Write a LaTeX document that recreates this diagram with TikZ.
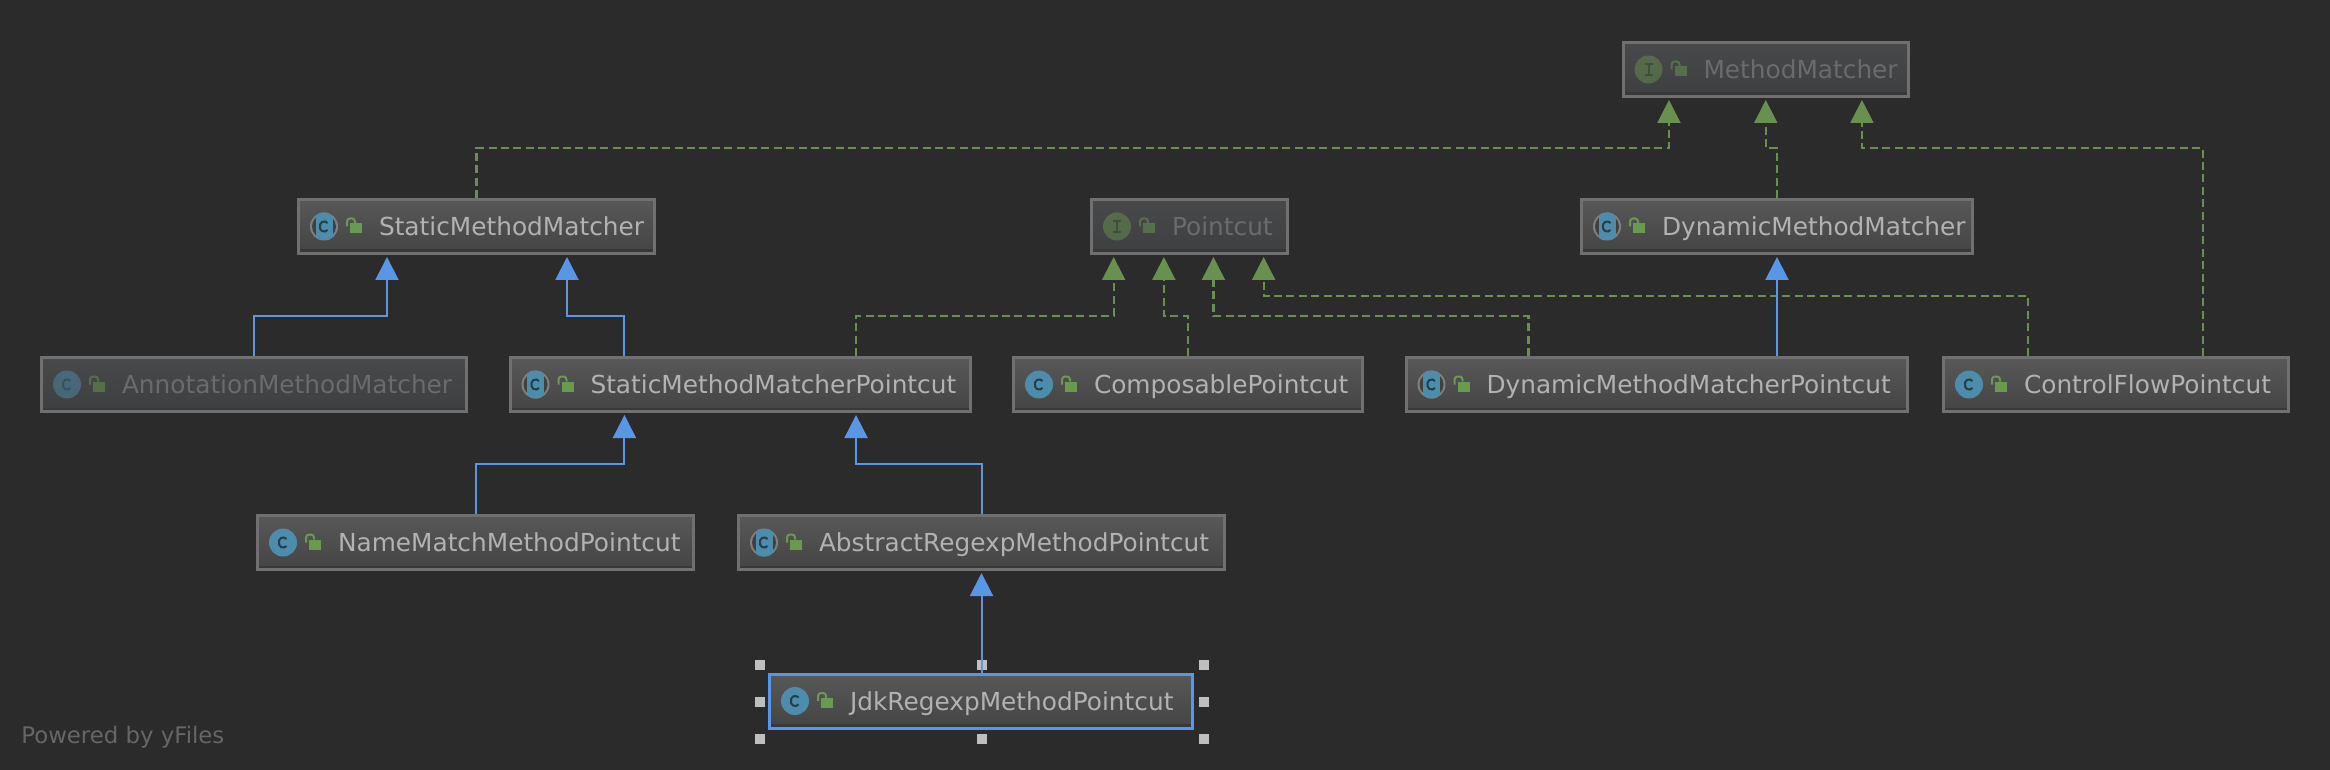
\documentclass[tikz,border=0pt]{standalone}
\usepackage{fontspec}
\setmainfont{DejaVu Sans}
\usepackage{xcolor}
\usetikzlibrary{arrows.meta}

\definecolor{canvas}{HTML}{2B2B2B}
\definecolor{edgeblue}{HTML}{5A96E6}
\definecolor{edgegreen}{HTML}{68904F}
\definecolor{boxedge}{HTML}{707070}
\definecolor{classblue}{HTML}{4D8CAA}
\definecolor{ifacegreen}{HTML}{68904F}
\definecolor{lockgreen}{HTML}{6A9A50}
\definecolor{boxtop}{HTML}{585858}
\definecolor{boxbottom}{HTML}{444444}
\definecolor{dimtop}{HTML}{48494B}
\definecolor{dimbottom}{HTML}{3D3F41}

\tikzset{
    classbox/.style={draw=boxedge, line width=1.5pt, top color=boxtop, bottom color=boxbottom,
        minimum height=27pt, inner xsep=0pt, inner ysep=0pt, align=left,
        text=black!30, font=\fontsize{12.4}{14}\selectfont,
        path picture={\fill [black!78] (path picture bounding box.south west) rectangle ([yshift=2pt]path picture bounding box.south east);},
        execute at begin node={\hspace*{40.25pt}\rule[-3pt]{0pt}{15pt}}},
    dimbox/.style={classbox, top color=dimtop, bottom color=dimbottom, text=black!58},
    selected/.style={draw=edgeblue},
    extends/.style={draw=edgeblue, line width=1pt, shorten >=1pt, -{Triangle[length=11.5pt, width=11.5pt]}},
    realizes/.style={draw=edgegreen, line width=1.1pt, shorten >=1pt, dash pattern=on 4pt off 2.2pt,
        -{Triangle[length=11.5pt, width=11.5pt]}},
    dimmed/.style={opacity=0.5},
    lockicon/.pic={
        \fill [lockgreen] (53,-3) rectangle (65,7);
        \draw [lockgreen, line width=1pt, rounded corners=1.5pt] (50,0) |- (58,-8) -- (58,-3);
    },
    concreteicon/.pic={
        \fill [classblue] (27,0) circle [radius=7pt];
        \draw [black!55!classblue, line width=1pt] (30.5,-3.5) -- (28,-5) -- (25,-4.5) -- (23,-2) -- (23,2) -- (25,4.5) -- (28,5) -- (30.5,3.5);
        \pic {lockicon};
    },
    abstracticon/.pic={
        \fill [black!50] (27,0) circle [radius=7pt];
        \fill [black!75] (27,0) circle [radius=6pt];
        \begin{scope}
            \clip (27,0) circle [radius=7pt];
            \fill [classblue] (18.5,-14) rectangle (35.5,14);
        \end{scope}
        \draw [black!55!classblue, line width=1pt] (30.5,-3.5) -- (28,-5) -- (25,-4.5) -- (23,-2) -- (23,2) -- (25,4.5) -- (28,5) -- (30.5,3.5);
        \pic {lockicon};
    },
    ifaceicon/.pic={
        \fill [ifacegreen] (27,0) circle [radius=7pt];
        \draw [black!60!ifacegreen, line width=1pt] (23,-5.5) -- (31,-5.5) (27,-5.5) -- (27,5.5) (23,5.5) -- (31,5.5);
        \pic {lockicon};
    },
}

\begin{document}
\begin{tikzpicture}[x=0.5pt, y=-0.5pt]
    % Canvas
    \fill [canvas] (0, 0) rectangle (2330, 770);
    \useasboundingbox (0, 0) rectangle (2330, 770);
    % Interfaces
    \node [dimbox, text width=142.75pt] (methodmatcher) at (1765.75, 69.5) {MethodMatcher};
    \node [dimbox, text width=97.75pt] (pointcut) at (1189.25, 226.5) {Pointcut};
    % First row
    \node [classbox, text width=178pt] (staticmatcher) at (476.5, 226.5) {StaticMethodMatcher};
    \node [classbox, text width=195.5pt] (dynamicmatcher) at (1777, 226.5) {DynamicMethodMatcher};
    % Second row
    \node [dimbox, text width=212.5pt] (annotationmatcher) at (254, 384.5) {AnnotationMethodMatcher};
    \node [classbox, text width=230.25pt] (staticpointcut) at (740.25, 384.5) {StaticMethodMatcherPointcut};
    \node [classbox, text width=174.5pt] (composable) at (1188, 384.5) {ComposablePointcut};
    \node [classbox, text width=250.75pt] (dynamicpointcut) at (1656.75, 384.5) {DynamicMethodMatcherPointcut};
    \node [classbox, text width=172.5pt] (controlflow) at (2116, 384.5) {ControlFlowPointcut};
    % Third row
    \node [classbox, text width=218pt] (namematch) at (475.5, 542.5) {NameMatchMethodPointcut};
    \node [classbox, text width=243pt] (abstractregexp) at (981.5, 542.5) {AbstractRegexpMethodPointcut};
    % Selected one and its handles
    \foreach \hx/\hy in {760/665, 982/665, 1204/665, 760/702, 1204/702, 760/739, 982/739, 1204/739}
        \fill [black!25] (\hx-5, \hy-5) rectangle (\hx+5, \hy+5);
    \node [classbox, selected, text width=211.5pt] (jdkregexp) at (981, 701) {JdkRegexpMethodPointcut};
    % Icons
    \pic [dimmed] at (methodmatcher.west) {ifaceicon};
    \pic [dimmed] at (pointcut.west) {ifaceicon};
    \pic at (staticmatcher.west) {abstracticon};
    \pic at (dynamicmatcher.west) {abstracticon};
    \pic [dimmed] at (annotationmatcher.west) {concreteicon};
    \pic at (staticpointcut.west) {abstracticon};
    \pic at (composable.west) {concreteicon};
    \pic at (dynamicpointcut.west) {abstracticon};
    \pic at (controlflow.west) {concreteicon};
    \pic at (namematch.west) {concreteicon};
    \pic at (abstractregexp.west) {abstracticon};
    \pic at (jdkregexp.west) {concreteicon};
    % Green lines up to MethodMatcher
    \draw [realizes] (staticmatcher.north) -- (staticmatcher.north |- 0, 148) -| ([xshift=-48.4pt]methodmatcher.south);
    \draw [realizes] (dynamicmatcher.north) -- (dynamicmatcher.north |- 0, 148) -| (methodmatcher.south);
    \draw [realizes] ([xshift=43.5pt]controlflow.north) -- ([xshift=43.5pt]controlflow.north |- 0, 148) -| ([xshift=48.1pt]methodmatcher.south);
    % Green lines up to Pointcut
    \draw [realizes] ([xshift=57.9pt]staticpointcut.north) -- ([xshift=57.9pt]staticpointcut.north |- 0, 316) -| ([xshift=-37.8pt]pointcut.south);
    \draw [realizes] (composable.north) -- (composable.north |- 0, 316) -| ([xshift=-12.7pt]pointcut.south);
    \draw [realizes] ([xshift=-64.1pt]dynamicpointcut.north) -- ([xshift=-64.1pt]dynamicpointcut.north |- 0, 316) -| ([xshift=12.1pt]pointcut.south);
    \draw [realizes] ([xshift=-44pt]controlflow.north) -- ([xshift=-44pt]controlflow.north |- 0, 296) -| ([xshift=37.2pt]pointcut.south);
    % Blue lines
    \draw [extends] (annotationmatcher.north) -- (annotationmatcher.north |- 0, 316) -| ([xshift=-44.75pt]staticmatcher.south);
    \draw [extends] ([xshift=-57.9pt]staticpointcut.north) -- ([xshift=-57.9pt]staticpointcut.north |- 0, 316) -| ([xshift=45.25pt]staticmatcher.south);
    \draw [extends] (dynamicmatcher.south |- dynamicpointcut.north) -- (dynamicmatcher.south);
    \draw [extends] (namematch.north) -- (namematch.north |- 0, 464) -| ([xshift=-57.9pt]staticpointcut.south);
    \draw [extends] (abstractregexp.north) -- (abstractregexp.north |- 0, 464) -| ([xshift=57.9pt]staticpointcut.south);
    \draw [extends] (abstractregexp.south |- jdkregexp.north) -- (abstractregexp.south);
    % Footer
    \node [anchor=west, inner sep=0pt, text=black!60, font=\fontsize{11.4}{13}\selectfont] (poweredby) at (21, 737) {Powered by yFiles};
\end{tikzpicture}
\end{document}
